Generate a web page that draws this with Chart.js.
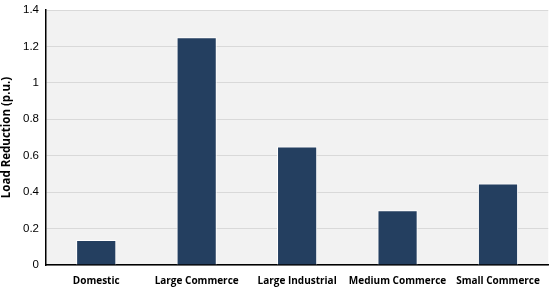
<!DOCTYPE html>
<html>
<head>
<meta charset="utf-8">
<script src="https://cdn.jsdelivr.net/npm/chart.js@4"></script>
<style>
  html, body { margin: 0; padding: 0; background: #fff; }
  #wrap { width: 550px; height: 289px; }
</style>
</head>
<body>
<div id="wrap"><canvas id="output"></canvas></div>
<script>
const categories = ["Domestic", "Large Commerce", "Large Industrial", "Medium Commerce", "Small Commerce"];
const loadReduction = [0.137, 1.25, 0.65, 0.30, 0.447];
const yTicks = [0, 0.2, 0.4, 0.6, 0.8, 1, 1.2, 1.4];

// grey plot area behind the bars
const plotBackground = {
    id: "plotBackground",
    beforeDraw(chart) {
        const { ctx, chartArea } = chart;
        ctx.save();
        ctx.fillStyle = "#f2f2f2";
        ctx.fillRect(chartArea.left, chartArea.top, chartArea.right - chartArea.left, chartArea.bottom - chartArea.top);
        ctx.restore();
    }
};

const chart = new Chart(document.getElementById("output"), {
    type: "bar",
    data: {
        labels: categories,
        datasets: [{
            data: loadReduction,
            backgroundColor: "#243f60",
            borderColor: "#ffffff",
            borderWidth: 1,
            barPercentage: 0.4,
            categoryPercentage: 1.0
        }]
    },
    options: {
        responsive: true,
        maintainAspectRatio: false,
        animation: false,
        layout: { padding: { top: 10, right: 1, bottom: 0, left: 0 } },
        plugins: { legend: { display: false }, tooltip: { enabled: false } },
        scales: {
            x: {
                afterFit: (axis) => { axis.height = 24; },
                grid: { display: false, drawTicks: false },
                border: { color: "#000", width: 1.5 },
                ticks: {
                    color: "#000",
                    padding: 10,
                    maxRotation: 0,
                    font: { family: "Open Sans", size: 10, weight: "bold" }
                }
            },
            y: {
                min: 0,
                max: 1.4,
                afterBuildTicks: (axis) => { axis.ticks = yTicks.map(v => ({ value: v })); },
                afterFit: (axis) => {
                    axis.width = 46;
                    axis.paddingTop = 0;
                    axis.paddingBottom = 0;
                },
                grid: { color: "#d9d9d9", drawTicks: false },
                border: { color: "#000", width: 1.5 },
                ticks: {
                    color: "#000",
                    padding: 7,
                    callback: (v) => String(Math.round(v * 10) / 10),
                    font: { family: "Liberation Sans", size: 11.5 }
                },
                title: {
                    display: true,
                    text: "Load Reduction (p.u.)",
                    color: "#000",
                    padding: { top: 0, bottom: 0 },
                    font: { family: "Open Sans", size: 11.5, weight: "bold" }
                }
            }
        }
    },
    plugins: [plotBackground]
});
</script>
</body>
</html>
